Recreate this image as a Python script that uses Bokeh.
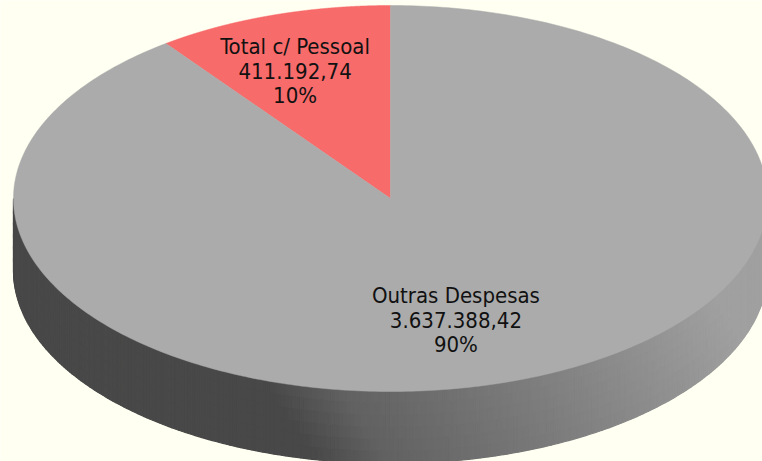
import numpy as np
from bokeh.plotting import figure
from bokeh.models import Range1d, ColumnDataSource
from bokeh.core.properties import value
from bokeh.embed import file_html
from bokeh.resources import INLINE

# ---- data ----
categories = ["Total c/ Pessoal", "Outras Despesas"]
values = [411192.74, 3637388.42]
slice_colors = ["#F86B6B", "#ABABAB"]

BG = "#FFFFF2"
W, H = 762, 461

p = figure(width=W, height=H, x_range=Range1d(0, W), y_range=Range1d(H, 0),
           output_backend="svg", toolbar_location=None, min_border=0,
           background_fill_color=BG, border_fill_color=BG)
p.axis.visible = False
p.grid.visible = False
p.outline_line_color = None

# pie geometry (page pixel coordinates)
CX, CY = 390.0, 198.0
A, B = 377.0, 193.0
D = 72.0


def ex(t):
    return CX + A * np.cos(t)


def ey(t):
    return CY - B * np.sin(t)


total = sum(values)
fracs = [v / total for v in values]


# ---- side wall (front half), diagonal shading ----
def side_gray(x, y):
    s = x - 0.65 * (y - 420)
    if s < 290:
        g = 72
    elif s < 360:
        g = 72 + (s - 290) / 70 * 25
    else:
        g = 97 + (s - 360) / 400 * 58
    g = int(round(max(60, min(160, g))))
    return "#%02x%02x%02x" % (g, g, g)


N, K = 300, 6
ts = np.linspace(np.pi, 2 * np.pi, N + 1)
sx, sy, sc = [], [], []
for i in range(N):
    t1, t2 = ts[i], ts[i + 1]
    x1, x2 = ex(t1), ex(t2)
    y1, y2 = ey(t1), ey(t2)
    for k in range(K):
        a0, a1 = D * k / K, D * (k + 1) / K
        sx.append([x1, x2, x2, x1])
        sy.append([y1 + a0, y2 + a0, y2 + a1, y1 + a1])
        sc.append(side_gray((x1 + x2) / 2, (y1 + y2) / 2 + (a0 + a1) / 2))
p.patches(sx, sy, fill_color=sc, line_color=sc, line_width=1.2)

# ---- top face wedges ----
wx, wy, wc = [], [], []
start = np.pi / 2
bounds = []
for f, c in zip(fracs, slice_colors):
    end = start + f * 2 * np.pi
    tt = np.linspace(start, end, 400)
    wx.append([CX] + list(ex(tt)))
    wy.append([CY] + list(ey(tt)))
    wc.append(c)
    bounds.append((start, end))
    start = end
p.patches(wx, wy, fill_color=wc, line_color=wc, line_width=0.5)

# ---- labels ----
def fmt_br(v):
    s = "{:,.2f}".format(v)
    return s.replace(",", "X").replace(".", ",").replace("X", ".")


R_LAB = 0.68
LINE = 24.5
lx, ly, lt, lyo = [], [], [], []
for cat, v, f, (s, e) in zip(categories, values, fracs, bounds):
    m = (s + e) / 2
    x0 = CX + R_LAB * A * np.cos(m) - 15
    y0 = CY - R_LAB * B * np.sin(m) - 3
    lines = [cat, fmt_br(v), "%d%%" % round(f * 100)]
    for k, txt in enumerate(lines):
        lx.append(x0)
        ly.append(y0)
        lt.append(txt)
        lyo.append((k - 1) * LINE)

src = ColumnDataSource(dict(x=lx, y=ly, text=lt, yo=lyo))
p.text(x="x", y="y", text="text", y_offset="yo", source=src,
       text_align="center", text_baseline="middle",
       text_font=value("DejaVu Sans Condensed, Liberation Sans"), text_font_size="22px",
       text_color="#111111")

open("out.html", "w").write(file_html(p, INLINE))
